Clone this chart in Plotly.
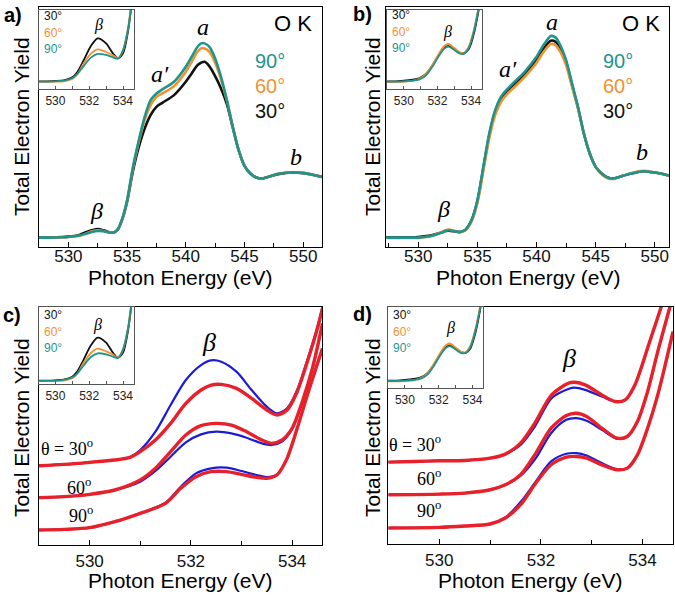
import plotly.graph_objects as go

W, H = 675, 595
SANS = "Liberation Sans, Arial, sans-serif"
SERIF = "Liberation Serif, Times New Roman, serif"
TEAL, ORANGE, BLACK = "#1f948c", "#f39130", "#111111"
BLUE, RED = "#1c1cd6", "#e8202a"

# ---------------- Panel a : O K edge, sample 1 (arb. units) ----------------
energy_a = [527.5, 528.5, 529.5, 530, 530.5, 531, 531.5, 532, 532.5, 533, 533.4, 533.8,
            534.2, 534.6, 535, 535.5, 536, 536.5, 537, 537.5, 538, 539, 540, 540.5, 541,
            541.3, 541.6, 542, 542.5, 543, 543.5, 544, 544.5, 545, 545.5, 546, 546.5, 547,
            548, 549, 550, 551, 551.6]
a_90 = [0.28, 0.28, 0.29, 0.30, 0.32, 0.35, 0.40, 0.45, 0.48, 0.47, 0.44, 0.43, 0.52, 0.86,
        1.40, 2.40, 3.20, 3.90, 4.40, 4.60, 4.72, 4.95, 5.40, 5.70, 6.00, 6.10, 6.10, 6.00,
        5.65, 5.10, 4.40, 3.60, 2.90, 2.43, 2.20, 2.08, 2.05, 2.10, 2.20, 2.24, 2.22, 2.15, 2.10]
a_60 = [0.28, 0.28, 0.29, 0.30, 0.32, 0.34, 0.40, 0.47, 0.50, 0.48, 0.44, 0.43, 0.52, 0.85,
        1.38, 2.36, 3.15, 3.80, 4.25, 4.50, 4.60, 4.82, 5.25, 5.55, 5.85, 5.95, 5.95, 5.85,
        5.52, 5.02, 4.38, 3.60, 2.90, 2.43, 2.20, 2.08, 2.05, 2.10, 2.20, 2.24, 2.22, 2.15, 2.10]
a_30 = [0.29, 0.29, 0.30, 0.31, 0.33, 0.37, 0.44, 0.50, 0.54, 0.50, 0.45, 0.43, 0.52, 0.84,
        1.35, 2.28, 3.00, 3.55, 3.95, 4.20, 4.32, 4.55, 4.95, 5.20, 5.45, 5.52, 5.55, 5.42,
        5.12, 4.75, 4.28, 3.58, 2.90, 2.43, 2.20, 2.08, 2.05, 2.10, 2.19, 2.23, 2.21, 2.15, 2.10]

# ---------------- Panel b : O K edge, sample 2 ----------------
energy_b = [527.3, 528.5, 529.5, 530, 530.5, 531, 531.5, 532, 532.3, 532.6, 533, 533.3, 533.6,
            534, 534.5, 535, 535.5, 536, 536.5, 537, 537.5, 538, 539, 540, 540.5, 541, 541.2,
            541.6, 542, 542.5, 543, 543.5, 544, 544.5, 545, 545.5, 546, 546.5, 547, 548, 549,
            550, 551, 551.2]
b_90 = [0.28, 0.28, 0.28, 0.28, 0.30, 0.32, 0.37, 0.43, 0.48, 0.50, 0.48, 0.46, 0.46, 0.52,
        0.80, 1.40, 2.40, 3.40, 4.10, 4.50, 4.72, 4.90, 5.25, 5.70, 6.00, 6.25, 6.32, 6.28,
        6.05, 5.60, 4.90, 4.20, 3.40, 2.80, 2.40, 2.20, 2.08, 2.05, 2.10, 2.20, 2.27, 2.23, 2.16, 2.14]
b_60 = [0.27, 0.27, 0.27, 0.27, 0.29, 0.32, 0.38, 0.45, 0.50, 0.52, 0.49, 0.46, 0.45, 0.50,
        0.76, 1.32, 2.28, 3.25, 3.95, 4.35, 4.58, 4.75, 5.10, 5.52, 5.80, 6.02, 6.08, 6.05,
        5.85, 5.45, 4.80, 4.15, 3.40, 2.80, 2.40, 2.18, 2.06, 2.04, 2.10, 2.21, 2.28, 2.23, 2.16, 2.14]
b_30 = [0.29, 0.29, 0.29, 0.30, 0.32, 0.34, 0.39, 0.44, 0.48, 0.49, 0.47, 0.45, 0.45, 0.52,
        0.80, 1.38, 2.36, 3.35, 4.05, 4.45, 4.65, 4.82, 5.18, 5.62, 5.90, 6.12, 6.18, 6.15,
        5.95, 5.52, 4.85, 4.18, 3.40, 2.80, 2.40, 2.20, 2.08, 2.05, 2.10, 2.20, 2.27, 2.23, 2.16, 2.14]

# ---------------- Insets (pre-edge beta region) ----------------
energy_ins1 = [529.0, 529.5, 530.0, 530.5, 531.0, 531.3, 531.65, 532.1, 532.5, 533.0, 533.4,
               533.7, 534.0, 534.3, 534.45, 534.6]
ins1_90 = [0.23, 0.23, 0.24, 0.26, 0.34, 0.46, 0.68, 0.95, 1.06, 1.03, 0.96, 0.92, 1.18, 1.83, 2.38, 2.98]
ins1_60 = [0.23, 0.23, 0.23, 0.24, 0.31, 0.45, 0.76, 1.07, 1.20, 1.12, 1.02, 0.93, 1.17, 1.83, 2.38, 2.98]
ins1_30 = [0.24, 0.24, 0.25, 0.27, 0.36, 0.52, 0.85, 1.30, 1.53, 1.38, 1.08, 0.93, 1.08, 1.75, 2.30, 2.95]

energy_ins2 = [529.0, 529.5, 530.0, 530.5, 530.94, 531.33, 531.73, 532.12, 532.41, 532.65, 533.0,
               533.3, 533.6, 533.88, 534.18, 534.43, 534.6]
ins2_90 = [0.23, 0.23, 0.24, 0.26, 0.30, 0.42, 0.70, 1.03, 1.22, 1.28, 1.18, 1.08, 1.08, 1.26, 1.76, 2.38, 2.88]
ins2_60 = [0.22, 0.22, 0.23, 0.25, 0.32, 0.46, 0.76, 1.10, 1.30, 1.36, 1.24, 1.12, 1.10, 1.30, 1.82, 2.42, 2.90]
ins2_30 = [0.24, 0.24, 0.26, 0.29, 0.34, 0.47, 0.74, 1.06, 1.25, 1.30, 1.20, 1.10, 1.08, 1.22, 1.70, 2.32, 2.85]

# ---------------- Panel c : measured (blue) vs fit (red), offset per angle ----------------
energy_c30 = [529.0, 529.5, 530.0, 530.5, 530.8, 531.0, 531.3, 531.6, 531.9, 532.2, 532.4, 532.6,
              532.9, 533.2, 533.5, 533.7, 533.9, 534.1, 534.3, 534.5, 534.6]
c30_red = [2.38, 2.42, 2.48, 2.55, 2.63, 2.80, 3.15, 3.65, 4.25, 4.65, 4.80, 4.82, 4.70, 4.40,
           4.05, 3.90, 4.05, 4.60, 5.50, 6.50, 7.10]
c30_blue = [2.38, 2.42, 2.48, 2.55, 2.64, 2.85, 3.40, 4.20, 4.95, 5.40, 5.54, 5.50, 5.20, 4.65,
            4.15, 3.95, 4.10, 4.65, 5.55, 6.55, 7.15]
energy_c60 = [529.0, 529.5, 530.0, 530.5, 531.0, 531.3, 531.6, 531.9, 532.2, 532.5, 532.8, 533.1,
              533.4, 533.6, 533.8, 534.0, 534.2, 534.4, 534.6]
c60_red = [1.42, 1.45, 1.52, 1.65, 1.95, 2.30, 2.80, 3.30, 3.58, 3.65, 3.60, 3.40, 3.15, 3.05,
           3.15, 3.50, 4.30, 5.30, 6.65]
c60_blue = [1.42, 1.45, 1.52, 1.65, 1.90, 2.22, 2.65, 3.08, 3.32, 3.40, 3.35, 3.22, 3.05, 3.00,
            3.10, 3.48, 4.28, 5.28, 6.63]
energy_c90 = [529.0, 529.5, 530.0, 530.5, 531.0, 531.5, 531.8, 532.1, 532.4, 532.7, 533.0, 533.3,
              533.5, 533.7, 533.9, 534.1, 534.3, 534.6]
c90_red = [0.45, 0.47, 0.52, 0.70, 0.95, 1.25, 1.70, 2.05, 2.20, 2.20, 2.12, 2.03, 2.00, 2.10,
           2.60, 3.50, 4.50, 5.90]
c90_blue = [0.45, 0.47, 0.52, 0.70, 0.95, 1.27, 1.75, 2.15, 2.30, 2.32, 2.22, 2.10, 2.04, 2.12,
            2.60, 3.50, 4.50, 5.90]

# ---------------- Panel d ----------------
energy_d30 = [529.0, 529.5, 530.0, 530.5, 531.0, 531.3, 531.6, 531.88, 532.21, 532.54, 532.67,
              532.87, 533.2, 533.46, 533.66, 533.85, 534.12, 534.38]
d30_red = [2.46, 2.48, 2.50, 2.51, 2.58, 2.70, 3.03, 3.63, 4.48, 4.83, 4.86, 4.78, 4.48, 4.28,
           4.33, 4.78, 5.98, 7.18]
d30_blue = [2.46, 2.48, 2.50, 2.51, 2.58, 2.70, 2.98, 3.53, 4.38, 4.66, 4.70, 4.63, 4.43, 4.28,
            4.33, 4.78, 5.98, 7.18]
energy_d60 = [529.0, 530.0, 530.5, 531.0, 531.3, 531.6, 531.9, 532.2, 532.5, 532.7, 532.9, 533.2,
              533.5, 533.7, 533.9, 534.1, 534.3, 534.55]
d60_red = [1.48, 1.50, 1.53, 1.63, 1.78, 2.08, 2.73, 3.48, 3.86, 3.93, 3.83, 3.48, 3.18, 3.23,
           3.68, 4.58, 5.78, 7.18]
d60_blue = [1.48, 1.50, 1.53, 1.63, 1.78, 2.05, 2.58, 3.33, 3.73, 3.78, 3.70, 3.43, 3.16, 3.23,
            3.68, 4.58, 5.78, 7.18]
energy_d90 = [529.0, 530.0, 530.5, 531.0, 531.3, 531.6, 531.9, 532.2, 532.5, 532.7, 532.9, 533.2,
              533.5, 533.7, 533.9, 534.1, 534.3, 534.6]
d90_red = [0.48, 0.50, 0.54, 0.60, 0.78, 1.18, 1.83, 2.38, 2.61, 2.63, 2.58, 2.38, 2.23, 2.28,
           2.68, 3.48, 4.48, 6.38]
d90_blue = [0.48, 0.50, 0.54, 0.60, 0.80, 1.26, 1.88, 2.48, 2.71, 2.73, 2.66, 2.43, 2.25, 2.28,
            2.68, 3.48, 4.48, 6.38]

angle_labels = ["30°", "60°", "90°"]
x_title = "Photon Energy (eV)"
y_title = "Total Electron Yield"

fig = go.Figure()


def line(x, y, color, width, ax):
    fig.add_trace(go.Scatter(x=x, y=y, mode="lines", showlegend=False, hoverinfo="skip",
                             line=dict(color=color, width=width, shape="spline", smoothing=0.8),
                             xaxis="x" + ax, yaxis="y" + ax))


# main a / b
for ys, c in ((a_30, BLACK), (a_60, ORANGE), (a_90, TEAL)):
    line(energy_a, ys, c, 2.6, "")
for ys, c in ((b_30, BLACK), (b_60, ORANGE), (b_90, TEAL)):
    line(energy_b, ys, c, 2.6, "2")
# main c / d
for e, yb, yr in ((energy_c30, c30_blue, c30_red), (energy_c60, c60_blue, c60_red),
                  (energy_c90, c90_blue, c90_red)):
    line(e, yb, BLUE, 2.2, "3")
    line(e, yr, RED, 3.4, "3")
for e, yb, yr in ((energy_d30, d30_blue, d30_red), (energy_d60, d60_blue, d60_red),
                  (energy_d90, d90_blue, d90_red)):
    line(e, yb, BLUE, 2.2, "4")
    line(e, yr, RED, 3.4, "4")
# insets
for ax, e, s30, s60, s90 in (("5", energy_ins1, ins1_30, ins1_60, ins1_90),
                             ("6", energy_ins2, ins2_30, ins2_60, ins2_90),
                             ("7", energy_ins1, ins1_30, ins1_60, ins1_90),
                             ("8", energy_ins2, ins2_30, ins2_60, ins2_90)):
    line(e, s30, BLACK, 1.8, ax)
    line(e, s60, ORANGE, 1.8, ax)
    line(e, s90, TEAL, 1.8, ax)


def px_x(p):
    return p / W


def px_y(p):
    return 1 - p / H


def main_x(dom, rng, dtick, minor, standoff):
    return dict(domain=dom, range=rng, showline=True, linecolor="black", linewidth=1.3, mirror=True,
                ticks="inside", ticklen=5, tickwidth=1.1, tickcolor="black", dtick=dtick, tick0=530,
                minor=dict(ticks="inside", ticklen=4, tickwidth=1.1, tickcolor="black", dtick=minor),
                showgrid=False, zeroline=False, ticklabelstandoff=standoff,
                tickfont=dict(size=17, family=SANS, color="#111"))


def main_y(dom, rng):
    return dict(domain=dom, range=rng, showline=True, linecolor="black", linewidth=1.3, mirror=True,
                ticks="", showticklabels=False, showgrid=False, zeroline=False)


def ins_x(dom, anchor):
    return dict(domain=dom, range=[529.0, 534.62], anchor=anchor, showline=True, linecolor="#555",
                linewidth=1, mirror=True, ticks="inside", ticklen=3, tickcolor="#555", dtick=2,
                tick0=530, minor=dict(ticks="inside", ticklen=3, tickcolor="#555", dtick=1),
                showgrid=False, zeroline=False, tickfont=dict(size=12, family=SANS, color="#222"))


def ins_y(dom, rng, anchor):
    return dict(domain=dom, range=rng, anchor=anchor, showline=True, linecolor="#555", linewidth=1,
                mirror=True, ticks="", showticklabels=False, showgrid=False, zeroline=False)


top_dom = [px_y(247), px_y(7)]
bot_dom = [px_y(545), px_y(306.7)]
bot_dom_d = [px_y(544), px_y(306.7)]

layout = dict(
    width=W, height=H, margin=dict(l=0, r=0, t=0, b=0),
    paper_bgcolor="white", plot_bgcolor="rgba(0,0,0,0)",
    xaxis=dict(main_x([px_x(39), px_x(322)], [527.5, 551.6], 5, 2.5, -7), anchor="y"),
    yaxis=dict(main_y(top_dom, [0, 7.19]), anchor="x"),
    xaxis2=dict(main_x([px_x(386), px_x(669)], [527.27, 551.2], 5, 2.5, -7), anchor="y2"),
    yaxis2=dict(main_y(top_dom, [0, 7.19]), anchor="x2"),
    xaxis3=dict(main_x([px_x(39), px_x(322)], [529.0, 534.59], 2, 1, 0), anchor="y3"),
    yaxis3=dict(main_y(bot_dom, [0, 7.15]), anchor="x3"),
    xaxis4=dict(main_x([px_x(388), px_x(673)], [528.99, 534.6], 2, 1, 0), anchor="y4"),
    yaxis4=dict(main_y(bot_dom_d, [0, 7.13]), anchor="x4"),
    xaxis5=ins_x([px_x(38.5), px_x(133.5)], "y5"),
    yaxis5=ins_y([px_y(89.3), px_y(10)], [0, 2.38], "x5"),
    xaxis6=ins_x([px_x(387), px_x(481.5)], "y6"),
    yaxis6=ins_y([px_y(89.3), px_y(10)], [0, 2.38], "x6"),
    xaxis7=ins_x([px_x(38.5), px_x(133.5)], "y7"),
    yaxis7=ins_y([px_y(384.3), px_y(306.7)], [0.13, 2.46], "x7"),
    xaxis8=ins_x([px_x(388), px_x(483)], "y8"),
    yaxis8=ins_y([px_y(388.3), px_y(306.7)], [0.01, 2.47], "x8"),
)

anns = []


def ann(text, px, py, size, color="black", family=SANS, xanchor="center", angle=0):
    anns.append(dict(text=text, x=px_x(px), y=px_y(py), xref="paper", yref="paper", showarrow=False,
                     xanchor=xanchor, yanchor="middle", textangle=angle,
                     font=dict(size=size, color=color, family=family)))


# panel letters
for t, x, y in (("a)", 13, 15), ("b)", 362, 14), ("c)", 12, 315), ("d)", 362, 314)):
    ann("<b>" + t + "</b>", x, y, 20)
# axis titles
for x, y in ((180, 277), (528, 277), (180, 580), (530, 580)):
    ann(x_title, x, y, 21)
for x, y in ((21, 127), (372, 127), (21, 428), (372, 428)):
    ann(y_title, x, y, 21, angle=-90)
# panel a/b labels
for dx in (0, 348):
    ann("O K", 293 + dx, 24, 22)
    ann(angle_labels[2], 270 + dx, 61, 20, TEAL)
    ann(angle_labels[1], 270 + dx, 86, 20, ORANGE)
    ann(angle_labels[0], 270 + dx, 111, 20, BLACK)
ann("<i>a</i>", 203, 27, 24, family=SERIF)
ann("<i>a′</i>", 160, 74, 24, family=SERIF)
ann("<i>b</i>", 296, 157, 24, family=SERIF)
ann("<i>β</i>", 96, 211, 24, family=SERIF)
ann("<i>a</i>", 552, 22, 24, family=SERIF)
ann("<i>a′</i>", 508, 69, 24, family=SERIF)
ann("<i>b</i>", 642, 152, 24, family=SERIF)
ann("<i>β</i>", 443, 209, 24, family=SERIF)
# inset labels
for x0, y0, bx, by in ((42, 16, 98, 25), (390, 15, 447, 32), (42, 315, 97, 325), (391, 315, 450, 328)):
    ann(angle_labels[0], x0, y0, 12, BLACK, xanchor="left")
    ann(angle_labels[1], x0, y0 + 17, 12, ORANGE, xanchor="left")
    ann(angle_labels[2], x0, y0 + 33, 12, TEAL, xanchor="left")
    ann("<i>β</i>", bx, by, 16, family=SERIF)
# panel c/d labels
ann("<i>β</i>", 209, 342, 26, family=SERIF)
ann("θ = 30<sup>o</sup>", 67, 447, 18, family=SERIF)
ann("60<sup>o</sup>", 79, 486, 18, family=SERIF)
ann("90<sup>o</sup>", 81, 514, 18, family=SERIF)
ann("<i>β</i>", 569, 358, 26, family=SERIF)
ann("θ = 30<sup>o</sup>", 415, 443, 18, family=SERIF)
ann("60<sup>o</sup>", 429, 477, 18, family=SERIF)
ann("90<sup>o</sup>", 429, 509, 18, family=SERIF)

layout["annotations"] = anns
fig.update_layout(**layout)
fig.write_html("out.html", config={"displayModeBar": False},
               post_script="document.body.style.margin='0';document.body.style.padding='0';")
